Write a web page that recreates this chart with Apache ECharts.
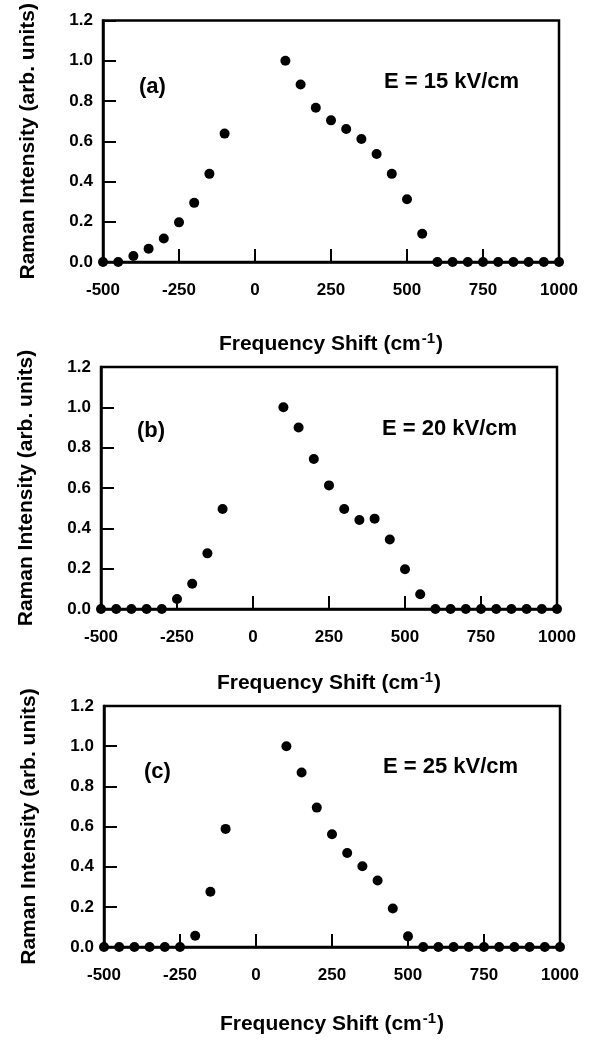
<!DOCTYPE html>
<html>
<head>
    <meta charset="UTF-8">
    <script src="https://cdn.jsdelivr.net/npm/echarts@6/dist/echarts.min.js"></script>
    <title>Raman Intensity vs Frequency Shift</title>
    <style>
        body { margin: 0; background: #fff; }
        #chart { width: 598px; height: 1040px; }
    </style>
</head>
<body>
    <div id="chart"></div>
<script>
    // frequency shift (cm-1), same sampling in all three panels
    var shifts = [-500, -450, -400, -350, -300, -250, -200, -150, -100,
        100, 150, 200, 250, 300, 350, 400, 450, 500, 550,
        600, 650, 700, 750, 800, 850, 900, 950, 1000];

    var intensityA = [0, 0, 0.03, 0.066, 0.117, 0.197, 0.294, 0.438, 0.638,
        1.0, 0.882, 0.767, 0.704, 0.661, 0.611, 0.537, 0.438, 0.312, 0.14,
        0, 0, 0, 0, 0, 0, 0, 0, 0];
    var intensityB = [0, 0, 0, 0, 0, 0.05, 0.125, 0.276, 0.496,
        1.0, 0.9, 0.744, 0.613, 0.496, 0.441, 0.448, 0.345, 0.197, 0.073,
        0, 0, 0, 0, 0, 0, 0, 0, 0];
    var intensityC = [0, 0, 0, 0, 0, 0, 0.056, 0.275, 0.588,
        1.0, 0.869, 0.694, 0.561, 0.468, 0.402, 0.331, 0.192, 0.053, 0,
        0, 0, 0, 0, 0, 0, 0, 0, 0];

    var panelTags = ['(a)', '(b)', '(c)'];
    var fieldLabels = ['E = 15 kV/cm', 'E = 20 kV/cm', 'E = 25 kV/cm'];

    var FONT = '"Liberation Sans", Arial, Helvetica, sans-serif';

    var grids = [
        { left: 103, width: 456, top: 20, height: 242 },
        { left: 101, width: 456, top: 367, height: 242 },
        { left: 104, width: 456, top: 706, height: 241 }
    ];
    var xNameGaps = [69, 61, 64];
    var allData = [intensityA, intensityB, intensityC];

    var chart = echarts.init(document.getElementById('chart'), null, { renderer: 'canvas' });

    function txt(s, x, y) {
        return { type: 'text', left: x, top: y, style: { text: s, fontSize: 22, fontWeight: 'bold', fontFamily: FONT, fill: '#000' } };
    }

    var option = {
        backgroundColor: '#fff',
        animation: false,
        textStyle: { fontFamily: FONT },
        grid: grids.map(function (g) {
            return Object.assign({ show: true, borderColor: '#000', borderWidth: 2.5, backgroundColor: 'transparent' }, g);
        }),
        xAxis: grids.map(function (g, i) {
            return {
                gridIndex: i,
                type: 'value',
                min: -500, max: 1000, interval: 250,
                axisLine: { show: true, onZero: false, lineStyle: { color: '#000', width: 2.5 } },
                axisTick: { show: true, inside: true, length: 13, lineStyle: { color: '#000', width: 2 } },
                splitLine: { show: false },
                axisLabel: {
                    color: '#000', fontSize: 17, fontWeight: 'bold', fontFamily: FONT, margin: 20,
                    formatter: function (v) { return String(v); }
                },
                name: '{a|Frequency Shift (cm}{s|-1}{a|)}',
                nameLocation: 'middle',
                nameGap: xNameGaps[i],
                nameTextStyle: {
                    rich: {
                        a: { fontSize: 21, fontWeight: 'bold', fontFamily: FONT, color: '#000' },
                        s: { fontSize: 15, fontWeight: 'bold', fontFamily: FONT, color: '#000', padding: [0, 1, 11, 1] }
                    }
                }
            };
        }),
        yAxis: grids.map(function (g, i) {
            return {
                gridIndex: i,
                type: 'value',
                min: 0, max: 1.2, interval: 0.2,
                axisLine: { show: true, onZero: false, lineStyle: { color: '#000', width: 2.5 } },
                axisTick: { show: true, inside: true, length: 13, lineStyle: { color: '#000', width: 2 } },
                splitLine: { show: false },
                axisLabel: {
                    color: '#000', fontSize: 17, fontWeight: 'bold', fontFamily: FONT, margin: 10,
                    formatter: function (v) { return v.toFixed(1); }
                },
                name: 'Raman Intensity (arb. units)',
                nameLocation: 'middle',
                nameGap: 64,
                nameTextStyle: { color: '#000', fontSize: 21, fontWeight: 'bold', fontFamily: FONT }
            };
        }),
        series: allData.map(function (vals, i) {
            return {
                type: 'scatter',
                xAxisIndex: i,
                yAxisIndex: i,
                symbol: 'circle',
                symbolSize: 10,
                clip: false,
                itemStyle: { color: '#000', opacity: 1 },
                data: shifts.map(function (x, k) { return [x, vals[k]]; })
            };
        }),
        graphic: [
            txt(panelTags[0], 139, 76),
            txt(panelTags[1], 137, 420),
            txt(panelTags[2], 144, 761),
            txt(fieldLabels[0], 384, 71),
            txt(fieldLabels[1], 382, 418),
            txt(fieldLabels[2], 383, 756)
        ]
    };

    chart.setOption(option);
</script>
</body>
</html>
